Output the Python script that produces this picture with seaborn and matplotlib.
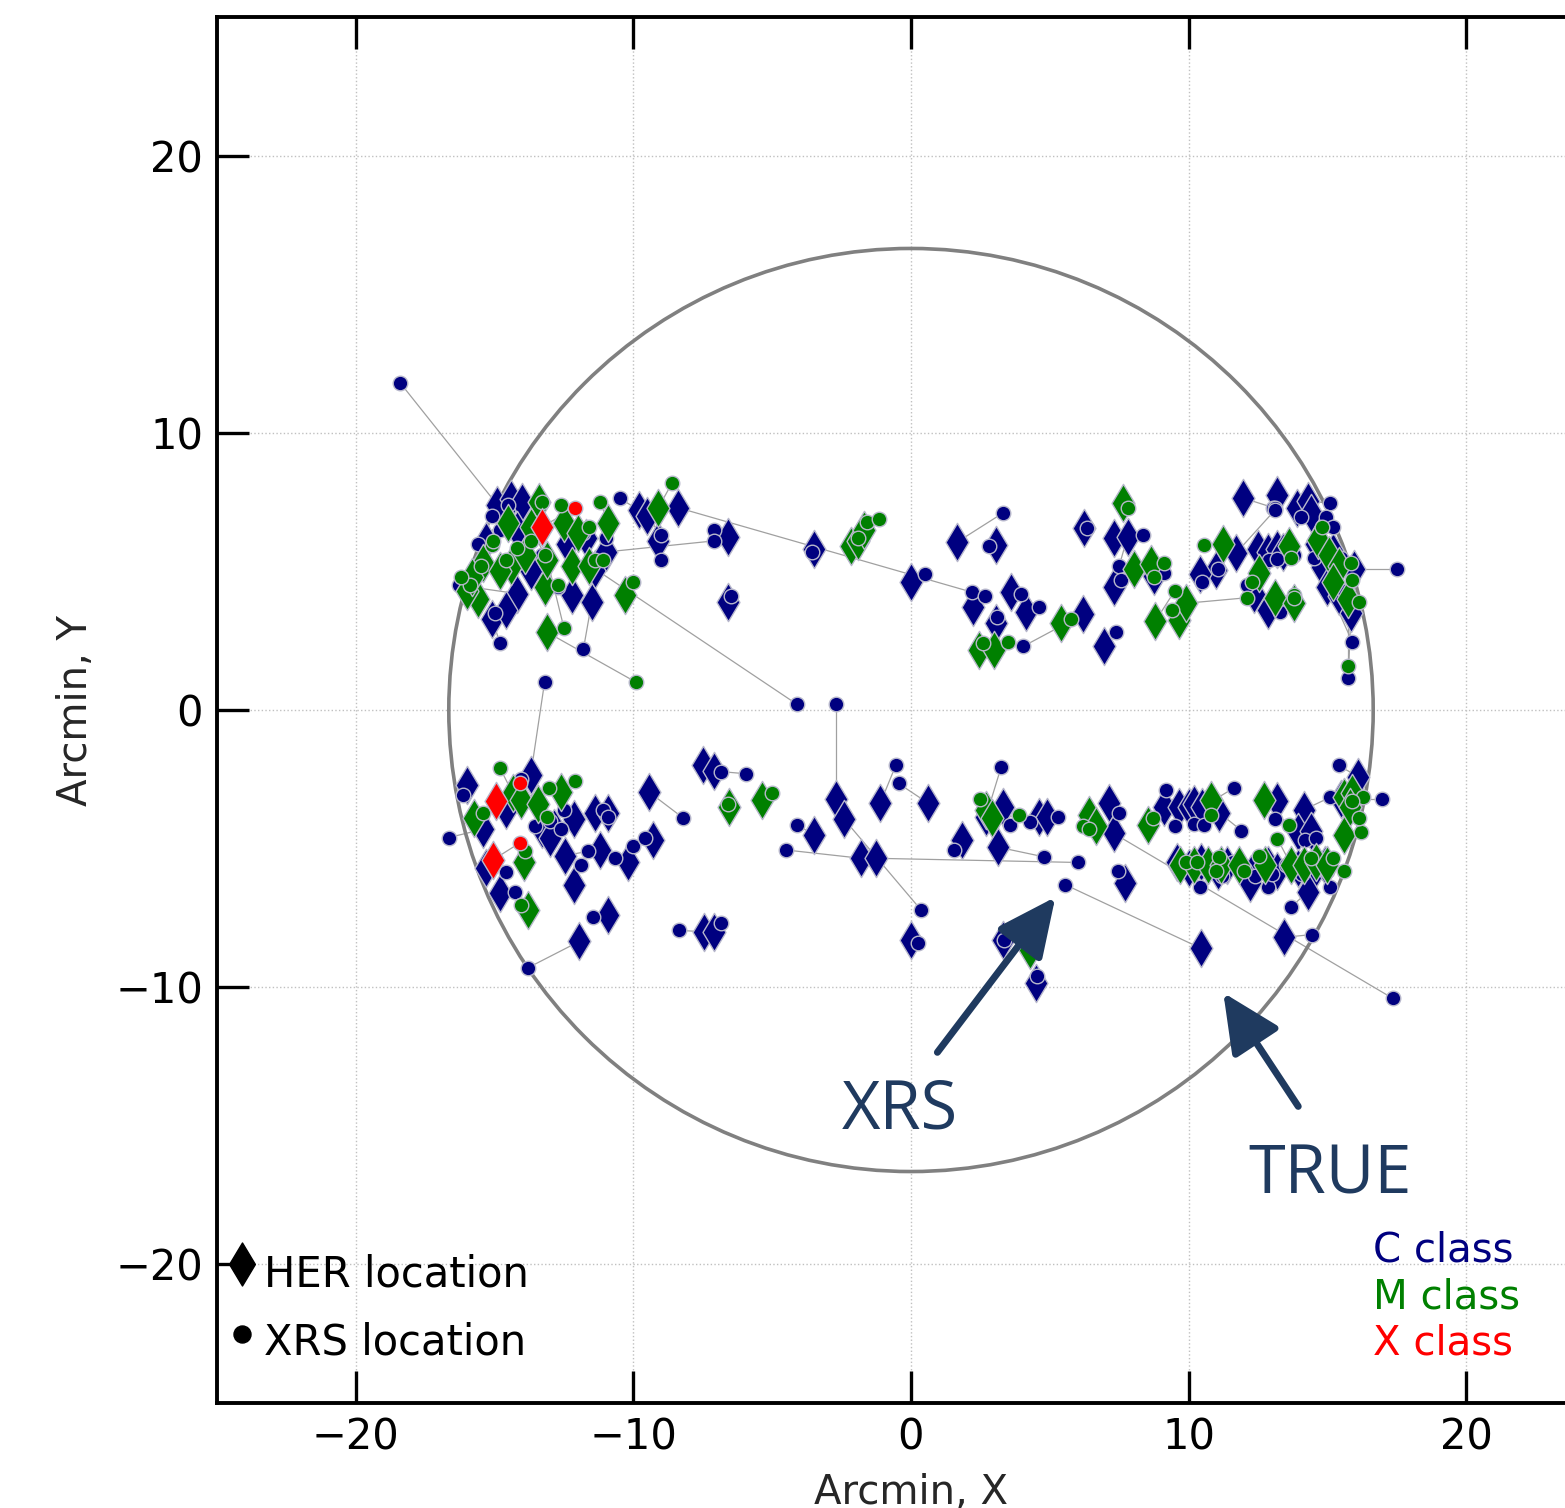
import numpy as np
import pandas as pd
import seaborn as sns
import matplotlib
matplotlib.use("Agg")
import matplotlib.pyplot as plt
from matplotlib.patches import Circle

# HER / XRS flare positions in arcmin, one row per flare, grouped by GOES class
c_her_x = [-14.9, -14.4, -14.0, -9.8, -9.5, -8.4, -9.1, -6.6, -6.6, -11.5, -12.2, -15.1, -14.2, -11.4, -14.2, -14.6,
           -12.4, -11.7, -13.7, -15.3, -11.0,
           -3.5, 0.0, 1.65, 3.05, 2.25, 3.6, 4.15, 3.05, 6.2, 6.95, 6.25, 7.3, 7.8, 7.3, 8.75,
           11.95, 13.2, 11.7, 13.9, 14.3, 14.4, 11.0, 10.4, 12.5, 12.85, 13.2, 13.4, 12.35, 12.85, 14.8, 15.0, 15.4,
           15.85, 15.95, 14.6, 15.2,
           -16.0, -15.4, -14.8, -15.3, -11.95, -10.9, -12.15, -11.4, -10.9, -12.45, -12.15, -11.2, -10.2, -12.85,
           -9.45, -9.3, -7.5, -7.1, -7.45, -7.1, -13.7, -14.6, -13.3, -13.0,
           -3.5, -1.8, -1.25, -2.7, -2.4, -1.1, 0.6, 0.0, 1.85, 2.7, 3.3, 3.15, 4.6, 4.9, 7.15, 7.3, 7.7, 9.1,
           10.45, 3.3, 4.5,
           9.65, 10.0, 10.2, 10.5, 11.1, 13.2, 14.15, 13.95, 14.4, 16.1, 15.5, 9.6, 10.0, 10.45, 11.05, 11.4,
           12.25, 12.85, 13.2, 13.95, 14.5, 14.9, 14.3, 12.2, 13.45]
c_her_y = [7.4, 7.6, 7.5, 7.2, 7.0, 7.3, 6.1, 6.25, 3.9, 3.9, 4.15, 3.3, 4.2, 5.1, 6.5, 3.6,
           6.0, 6.2, 5.0, 6.1, 5.7,
           5.8, 4.6, 6.05, 5.95, 3.7, 4.25, 3.55, 3.15, 3.45, 2.3, 6.55, 6.2, 6.25, 4.45, 4.85,
           7.65, 7.75, 5.65, 7.3, 7.55, 7.1, 5.05, 4.9, 5.8, 5.7, 5.8, 5.7, 4.2, 3.6, 5.15, 4.45, 4.1,
           3.5, 5.1, 6.0, 5.7,
           -2.7, -4.3, -6.6, -5.7, -8.35, -7.4, -3.95, -3.7, -3.7, -5.25, -6.3, -5.05, -5.5, -4.25,
           -2.95, -4.7, -2.0, -2.2, -8.0, -8.0, -2.35, -3.6, -4.3, -4.6,
           -4.5, -5.35, -5.35, -3.2, -3.95, -3.35, -3.35, -8.3, -4.7, -3.85, -3.5, -4.95, -3.85, -3.85, -3.35, -4.45,
           -6.25, -3.5, -8.6, -8.3, -9.85,
           -3.5, -3.5, -3.4, -3.5, -3.7, -3.3, -3.6, -4.4, -4.35, -2.4, -3.2, -5.5, -5.7, -5.5, -5.8, -5.6,
           -5.9, -5.6, -5.8, -5.7, -5.8, -5.6, -6.55, -6.25, -8.2]
c_xrs_x = [-18.4, -15.1, -15.6, -10.5, -9.0, 2.2, -9.0, -7.1, -6.5, -11.8, -12.7, -14.8, -16.3, -4.1, -14.5, -15.0,
           -11.8, -11.0, -13.3, -14.8, -7.1,
           -3.55, 0.5, 3.3, 2.8, 2.65, 3.95, 4.6, 3.1, 4.05, 7.4, 6.35, 8.35, 7.5, 7.55, 9.1,
           13.05, 13.1, 13.1, 14.05, 15.1, 14.95, 11.05, 10.5, 12.9, 13.2, 13.5, 13.8, 12.1, 13.3, 14.5, 15.9, 15.6,
           15.75, 17.5, 15.2, 15.5,
           -16.15, -16.65, -14.25, -14.6, -13.8, -11.45, -12.5, -11.1, -10.9, -11.65, -11.9, -10.65, -10.0, -13.55,
           -8.2, -9.6, -6.85, -5.95, -8.35, -6.85, -13.2, -14.05, -13.0, -12.6,
           -4.1, -4.5, 6.0, -2.7, 0.35, -0.55, -0.45, 0.25, 1.55, 3.25, 3.55, 4.8, 4.3, 5.3, 7.5, 17.35,
           7.45, 9.2, 5.55, 3.35, 4.55,
           9.5, 10.2, 10.55, 11.65, 11.9, 13.1, 15.1, 14.2, 14.6, 15.4, 16.95, 9.8, 10.4, 10.6, 11.2, 11.6,
           12.85, 13.0, 13.5, 14.1, 15.1, 15.0, 13.7, 12.4, 14.45]
c_xrs_y = [11.8, 7.0, 6.0, 7.65, 6.3, 4.25, 5.4, 6.5, 4.1, 2.2, 4.45, 2.4, 4.5, 0.2, 7.4, 3.5,
           6.4, 6.2, 5.6, 6.5, 6.1,
           5.7, 4.9, 7.1, 5.9, 4.1, 4.2, 3.7, 3.35, 2.3, 2.8, 6.55, 6.3, 5.2, 4.7, 4.95,
           7.3, 7.3, 7.2, 6.95, 7.45, 6.95, 5.1, 4.6, 5.4, 5.45, 5.9, 5.6, 4.5, 3.55, 5.5, 2.45, 4.3,
           1.15, 5.1, 6.6, 5.5,
           -3.05, -4.6, -6.55, -5.85, -9.3, -7.45, -3.6, -3.6, -3.85, -5.1, -5.6, -5.35, -4.9, -4.2,
           -3.9, -4.6, -2.25, -2.3, -7.95, -7.7, 1.0, -2.5, -4.0, -4.3,
           -4.15, -5.05, -5.5, 0.2, -7.2, -2.0, -2.65, -8.4, -5.05, -2.05, -4.15, -5.3, -4.05, -3.85, -3.7, -10.4,
           -5.8, -2.9, -6.3, -8.3, -9.6,
           -4.2, -4.1, -4.15, -2.8, -4.35, -3.95, -3.15, -4.7, -4.6, -2.0, -3.2, -5.6, -6.4, -5.7, -6.0, -5.5,
           -6.4, -5.9, -5.6, -5.9, -6.4, -5.8, -7.1, -6.0, -8.1]

m_her_x = [-13.4, -12.5, -10.9, -9.1, -10.3, -13.1, -12.2, -13.2, -15.6, -15.4, -14.5, -14.4, -13.9, -13.7,
           -13.1, -16.0, -15.8, -14.8, -12.0, -11.6,
           -2.15, -1.9, -1.7, 2.45, 3.0, 5.4, 7.65, 8.05, 8.65, 8.8, 9.65,
           11.25, 9.9, 12.55, 13.6, 13.1, 13.8, 14.65, 15.05, 15.4, 15.2, 15.75,
           -15.75, -14.35, -14.05, -13.45, -12.6, -13.95, -13.8, -6.55, -5.35,
           2.7, 2.9, 6.4, 6.65, 8.55, 4.3,
           10.8, 12.7, 15.6, 15.6, 15.9, 15.8, 9.7, 10.2, 10.7, 11.15, 11.8, 12.75, 13.7, 14.15, 14.6, 15.0]
m_her_y = [7.5, 6.75, 6.75, 7.3, 4.15, 2.8, 5.2, 4.45, 4.0, 5.3, 6.75, 5.2, 5.6, 6.6,
           5.4, 4.3, 4.8, 5.0, 6.4, 5.2,
           5.9, 6.1, 6.5, 2.15, 2.15, 3.15, 7.45, 5.1, 5.25, 3.2, 3.25,
           6.0, 3.85, 4.95, 5.9, 4.05, 3.85, 6.15, 5.6, 5.2, 4.6, 4.0,
           -3.9, -3.0, -3.25, -3.4, -2.95, -5.5, -7.2, -3.5, -3.25,
           -3.6, -3.9, -3.8, -4.2, -4.15, -8.65,
           -3.25, -3.25, -4.5, -3.15, -3.0, -3.5, -5.6, -5.6, -5.6, -5.6, -5.6, -5.6, -5.6, -5.6, -5.5, -5.6]
m_xrs_x = [-13.3, -12.6, -11.2, -8.6, -10.0, -9.9, -11.4, -12.7, -15.9, -15.1, -15.05, -14.2, -13.7, -13.2,
           -12.5, -16.2, -15.5, -14.6, -11.6, -11.1,
           -1.9, -1.6, -1.15, 2.6, 3.5, 5.75, 7.8, 8.75, 9.1, 9.5, 9.4,
           10.55, 12.1, 12.3, 13.7, 13.8, 13.8, 14.8, 15.85, 15.9, 16.15, 15.75,
           -15.4, -14.8, -13.05, -13.1, -12.1, -13.9, -14.05, -6.6, -5.0,
           2.5, 3.9, 6.2, 6.4, 8.7, 4.4,
           10.8, 13.6, 16.2, 16.3, 16.15, 15.9, 9.9, 10.3, 11.1, 11.0, 12.0, 12.55, 13.2, 14.4, 15.2, 15.6]
m_xrs_y = [7.5, 7.4, 7.5, 8.2, 4.6, 1.0, 5.4, 4.5, 4.5, 5.95, 6.1, 5.85, 6.1, 5.6,
           2.95, 4.8, 5.2, 5.4, 6.6, 5.4,
           6.2, 6.8, 6.9, 2.4, 2.45, 3.3, 7.3, 4.8, 5.3, 4.3, 3.6,
           5.95, 4.05, 4.6, 5.5, 4.15, 4.05, 6.6, 5.3, 4.7, 3.9, 1.6,
           -3.7, -2.1, -2.8, -3.85, -2.55, -5.1, -7.05, -3.4, -3.0,
           -3.2, -3.8, -4.2, -4.3, -3.9, -8.5,
           -3.8, -4.15, -4.4, -3.15, -3.9, -3.3, -5.5, -5.5, -5.3, -5.8, -5.8, -5.25, -4.65, -5.35, -5.35, -5.8]

x_her_x = [-13.3, -14.95, -15.05]
x_her_y = [6.6, -3.3, -5.4]
x_xrs_x = [-12.1, -14.1, -14.1]
x_xrs_y = [7.3, -2.65, -4.8]

class_names = ["C class", "M class", "X class"]
class_colors = ["#000080", "#008000", "#ff0000"]

fov_radius = 16.65
ticks = [-20, -10, 0, 10, 20]

# tidy frame: one row per flare
frames = []
for name, hx, hy, xx, xy in zip(class_names,
                                [c_her_x, m_her_x, x_her_x], [c_her_y, m_her_y, x_her_y],
                                [c_xrs_x, m_xrs_x, x_xrs_x], [c_xrs_y, m_xrs_y, x_xrs_y]):
    frames.append(pd.DataFrame({"her_x": hx, "her_y": hy, "xrs_x": xx, "xrs_y": xy, "cls": name}))
flares = pd.concat(frames, ignore_index=True)
flares["pair"] = np.arange(len(flares))

# long form for the HER -> XRS connector lines
links = pd.concat([
    flares[["pair", "her_x", "her_y"]].rename(columns={"her_x": "x", "her_y": "y"}),
    flares[["pair", "xrs_x", "xrs_y"]].rename(columns={"xrs_x": "x", "xrs_y": "y"}),
]).sort_values("pair", kind="stable")

sns.set_theme(style="white")
plt.rcParams["font.family"] = ["DejaVu Sans"]

fig = plt.figure(figsize=(15.65, 15.08), dpi=100)
ax = fig.add_axes([217 / 1565, 105 / 1508, 1388 / 1565, 1386 / 1508])

ax.grid(True, which="major", linestyle=":", color="#c0c0c0", linewidth=1.0)
ax.set_axisbelow(True)

sns.lineplot(data=links, x="x", y="y", units="pair", estimator=None, sort=False,
             color="#a0a0a0", linewidth=0.9, ax=ax, legend=False, zorder=2)

ax.add_patch(Circle((0, 0), fov_radius, fill=False, edgecolor="#808080", linewidth=2.6, zorder=2.5))

for name, col in zip(class_names, class_colors):
    sub = flares[flares["cls"] == name]
    sns.scatterplot(data=sub, x="her_x", y="her_y", marker="d", s=380, color=col,
                    edgecolor="#b8b8cc", linewidth=1.0, ax=ax, legend=False, zorder=3)
    sns.scatterplot(data=sub, x="xrs_x", y="xrs_y", marker="o", s=110, color=col,
                    edgecolor="#b8b8cc", linewidth=1.0, ax=ax, legend=False, zorder=3)

# marker key, bottom left
ax.scatter([-24.1], [-20.0], marker="d", s=480, color="black", zorder=4)
ax.scatter([-24.1], [-22.5], marker="o", s=150, color="black", zorder=4)
ax.text(-23.3, -20.35, "HER location", fontsize=30, va="center", ha="left", color="black")
ax.text(-23.3, -22.8, "XRS location", fontsize=30, va="center", ha="left", color="black")

# class key, bottom right
for i, (name, col) in enumerate(zip(class_names, class_colors)):
    ax.text(16.65, -19.5 - 1.68 * i, name, fontsize=29, color=col, va="center", ha="left")

arrow_col = "#1f3a5f"
arrow_style = "-|>,head_length=1.8,head_width=0.85"
ax.annotate("", xy=(5.2, -6.75), xytext=(0.95, -12.35),
            arrowprops=dict(arrowstyle=arrow_style, mutation_scale=20,
                            lw=5, color=arrow_col, shrinkA=0, shrinkB=0), zorder=5)
ax.annotate("", xy=(11.25, -10.2), xytext=(13.95, -14.3),
            arrowprops=dict(arrowstyle=arrow_style, mutation_scale=20,
                            lw=5, color=arrow_col, shrinkA=0, shrinkB=0), zorder=5)
ax.text(-0.4, -14.45, "XRS", fontsize=48, color=arrow_col, ha="center", va="center", family=["Open Sans"])
ax.text(15.1, -16.8, "TRUE", fontsize=48, color=arrow_col, ha="center", va="center", family=["Open Sans"])

ax.set_xlim(-25, 25)
ax.set_ylim(-25, 25)
ax.set_xticks(ticks)
ax.set_yticks(ticks)
ax.set_xlabel("Arcmin, X", fontsize=29, labelpad=10)
ax.set_ylabel("Arcmin, Y", fontsize=29, labelpad=14)
ax.tick_params(direction="in", length=23, width=2.4, labelsize=30, pad=10,
               top=True, right=True, bottom=True, left=True, colors="black")
for sp in ax.spines.values():
    sp.set_linewidth(2.8)
    sp.set_color("black")

fig.savefig("out.png", dpi=100)
